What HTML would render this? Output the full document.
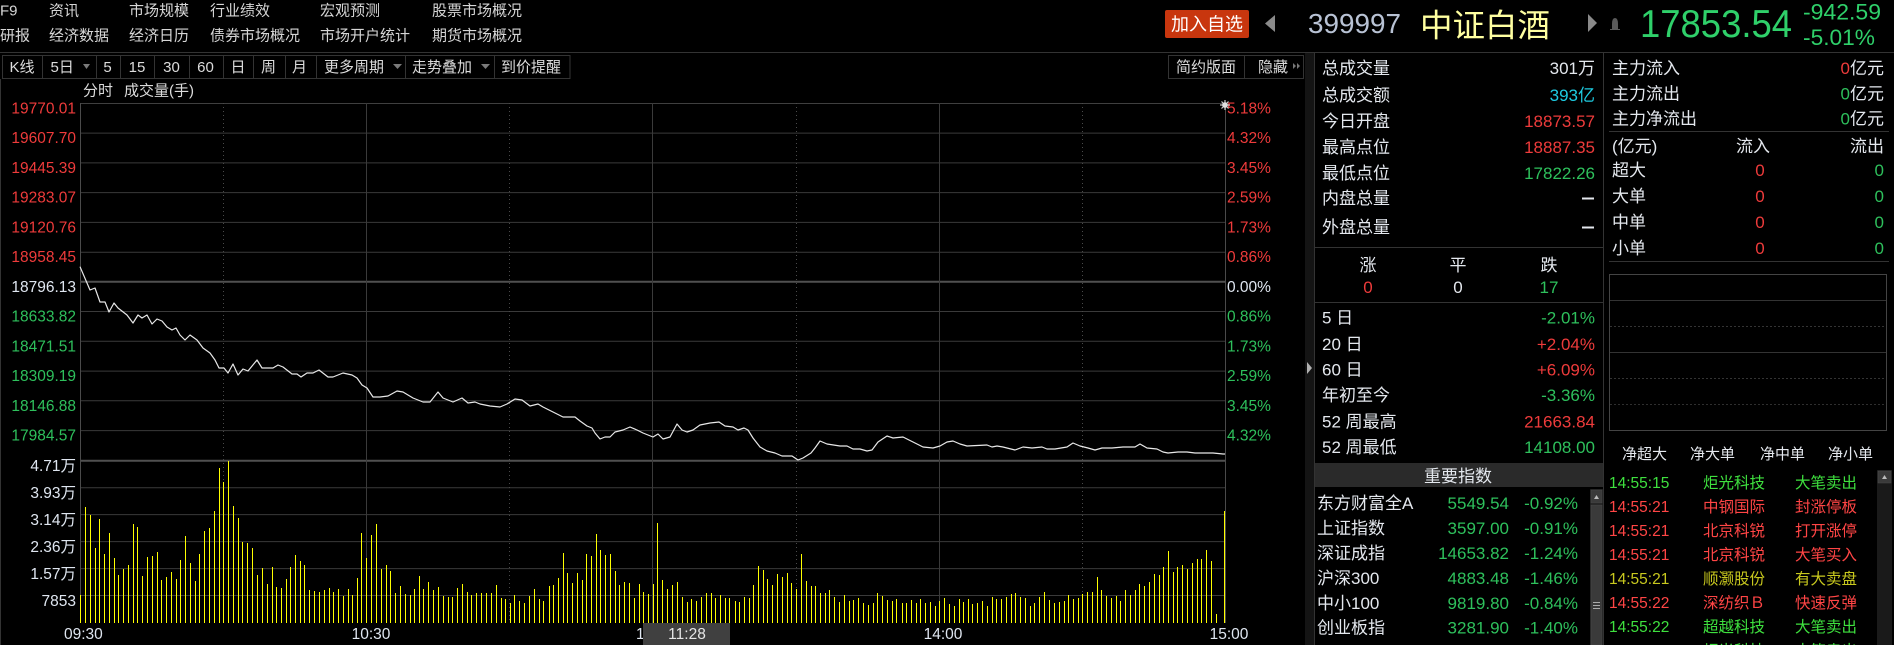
<!DOCTYPE html>
<html>
<head>
<meta charset="utf-8">
<style>
html,body{margin:0;padding:0;background:#000;}
body{width:1894px;height:645px;overflow:hidden;position:relative;}
svg{position:absolute;left:0;top:0;display:block;}
text{font-family:"Liberation Sans","Noto Sans CJK SC",sans-serif;}
</style>
</head>
<body>
<svg width="1894" height="645" viewBox="0 0 1894 645" xmlns="http://www.w3.org/2000/svg">
<rect x="0" y="0" width="1894" height="645" fill="#000"/>

<!-- ===== Top menu ===== -->
<g font-size="15" fill="#d6d6d6">
  <text x="0" y="15.7">F9</text>
  <text x="49" y="15.7">资讯</text>
  <text x="129" y="15.7">市场规模</text>
  <text x="210" y="15.7">行业绩效</text>
  <text x="320" y="15.7">宏观预测</text>
  <text x="432" y="15.7">股票市场概况</text>
  <text x="0" y="40.7">研报</text>
  <text x="49" y="40.7">经济数据</text>
  <text x="129" y="40.7">经济日历</text>
  <text x="210" y="40.7">债券市场概况</text>
  <text x="320" y="40.7">市场开户统计</text>
  <text x="432" y="40.7">期货市场概况</text>
</g>

<!-- ===== Header right ===== -->
<rect x="1165" y="10" width="84" height="28" rx="2" fill="#c8360e"/>
<text x="1207" y="30.5" font-size="18" fill="#fff" text-anchor="middle">加入自选</text>
<polygon points="1275,15 1265,23.5 1275,32" fill="#8a8a8a"/>
<text x="1308" y="33" font-size="28" fill="#b8c2d4" textLength="93" lengthAdjust="spacingAndGlyphs">399997</text>
<text x="1420" y="36.5" font-size="32" fill="#ffffa0" textLength="130" lengthAdjust="spacingAndGlyphs">中证白酒</text>
<polygon points="1588,14 1597,23 1588,32" fill="#8a8a8a"/>
<path d="M1612,29 L1612,24 Q1612,18 1615,18 Q1618,18 1618,24 L1618,29 Z M1610,29 L1620,29 L1620,30 L1610,30 Z" fill="#5a5a5a"/>
<text x="1640" y="37" font-size="39" fill="#2fd06a" textLength="152" lengthAdjust="spacingAndGlyphs">17853.54</text>
<text x="1803" y="19.5" font-size="22" fill="#2fd06a" textLength="78" lengthAdjust="spacingAndGlyphs">-942.59</text>
<text x="1803" y="45" font-size="22" fill="#2fd06a" textLength="72" lengthAdjust="spacingAndGlyphs">-5.01%</text>

<!-- top separator line -->
<line x1="0" y1="52.5" x2="1894" y2="52.5" stroke="#333" stroke-width="1"/>

<!-- ===== Toolbar ===== -->
<rect x="2.5" y="55.5" width="567.5" height="23" fill="#000" stroke="#333" stroke-width="1"/>
<g stroke="#333" stroke-width="1">
  <line x1="42.5" y1="55" x2="42.5" y2="79"/>
  <line x1="96.5" y1="55" x2="96.5" y2="79"/>
  <line x1="120.5" y1="55" x2="120.5" y2="79"/>
  <line x1="154.5" y1="55" x2="154.5" y2="79"/>
  <line x1="189.5" y1="55" x2="189.5" y2="79"/>
  <line x1="223.5" y1="55" x2="223.5" y2="79"/>
  <line x1="253.5" y1="55" x2="253.5" y2="79"/>
  <line x1="285.5" y1="55" x2="285.5" y2="79"/>
  <line x1="316.5" y1="55" x2="316.5" y2="79"/>
  <line x1="405.5" y1="55" x2="405.5" y2="79"/>
  <line x1="494.5" y1="55" x2="494.5" y2="79"/>
</g>
<g font-size="15" fill="#dcdcdc">
  <text x="22" y="72" text-anchor="middle">K线</text>
  <text x="50.5" y="72">5日</text>
  <text x="107.5" y="72" text-anchor="middle">5</text>
  <text x="137" y="72" text-anchor="middle">15</text>
  <text x="171.5" y="72" text-anchor="middle">30</text>
  <text x="205.5" y="72" text-anchor="middle">60</text>
  <text x="238" y="72" text-anchor="middle">日</text>
  <text x="268.5" y="72" text-anchor="middle">周</text>
  <text x="299.5" y="72" text-anchor="middle">月</text>
  <text x="324" y="72">更多周期</text>
  <text x="412" y="72">走势叠加</text>
  <text x="501" y="72">到价提醒</text>
</g>
<g fill="#7a7a7a">
  <polygon points="83,64 90,64 86.5,69"/>
  <polygon points="393,64 402,64 397.5,69"/>
  <polygon points="481,64 490,64 485.5,69"/>
</g>
<!-- right toolbar -->
<rect x="1168.5" y="55.5" width="135" height="23" fill="#000" stroke="#333" stroke-width="1"/>
<line x1="1244.5" y1="55" x2="1244.5" y2="79" stroke="#333"/>
<text x="1176" y="72" font-size="15" fill="#dcdcdc">简约版面</text>
<text x="1258" y="72" font-size="15" fill="#dcdcdc">隐藏</text>
<polygon points="1293,63 1296,66 1293,69" fill="#777"/>
<polygon points="1297,63 1300,66 1297,69" fill="#777"/>

<text x="83" y="95.5" font-size="15" fill="#dcdcdc">分时</text>
<text x="124" y="95.5" font-size="15" fill="#dcdcdc">成交量(手)</text>

<!-- left edge line -->
<line x1="0.5" y1="79" x2="0.5" y2="645" stroke="#333"/>

<!-- ===== Chart grid ===== -->
<g stroke="#3a3a3a" stroke-width="1">
  <line x1="80" y1="133.1" x2="1225.5" y2="133.1"/>
  <line x1="80" y1="162.9" x2="1225.5" y2="162.9"/>
  <line x1="80" y1="192.6" x2="1225.5" y2="192.6"/>
  <line x1="80" y1="222.4" x2="1225.5" y2="222.4"/>
  <line x1="80" y1="252.2" x2="1225.5" y2="252.2"/>
  <line x1="80" y1="311.5" x2="1225.5" y2="311.5"/>
  <line x1="80" y1="341.3" x2="1225.5" y2="341.3"/>
  <line x1="80" y1="371.1" x2="1225.5" y2="371.1"/>
  <line x1="80" y1="400.8" x2="1225.5" y2="400.8"/>
  <line x1="80" y1="430.6" x2="1225.5" y2="430.6"/>
  <line x1="80" y1="487.7" x2="1225.5" y2="487.7"/>
  <line x1="80" y1="514.6" x2="1225.5" y2="514.6"/>
  <line x1="80" y1="541.6" x2="1225.5" y2="541.6"/>
  <line x1="80" y1="568.6" x2="1225.5" y2="568.6"/>
  <line x1="80" y1="595.5" x2="1225.5" y2="595.5"/>
</g>
<line x1="80" y1="103.5" x2="1225.5" y2="103.5" stroke="#3f3f3f" stroke-width="1"/>
<line x1="80" y1="281.7" x2="1225.5" y2="281.7" stroke="#505050" stroke-width="2"/>
<line x1="80" y1="460.7" x2="1225.5" y2="460.7" stroke="#505050" stroke-width="2"/>
<!-- vertical solid -->
<g stroke="#3a3a3a" stroke-width="1">
  <line x1="366.5" y1="103" x2="366.5" y2="623"/>
  <line x1="652.5" y1="103" x2="652.5" y2="623"/>
  <line x1="939.5" y1="103" x2="939.5" y2="623"/>
</g>
<g stroke="#4a4a4a" stroke-width="1" stroke-dasharray="1,3">
  <line x1="223.5" y1="103" x2="223.5" y2="623"/>
  <line x1="509.5" y1="103" x2="509.5" y2="623"/>
  <line x1="796.5" y1="103" x2="796.5" y2="623"/>
  <line x1="1082.5" y1="103" x2="1082.5" y2="623"/>
</g>
<line x1="80.5" y1="103" x2="80.5" y2="623" stroke="#4a4a4a"/>
<line x1="1225.5" y1="103" x2="1225.5" y2="623" stroke="#4a4a4a"/>

<!-- ===== Left price labels ===== -->
<g font-size="15.5" text-anchor="end">
  <text x="76" y="113.3" fill="#ee3b3b">19770.01</text>
  <text x="76" y="143.1" fill="#ee3b3b">19607.70</text>
  <text x="76" y="172.9" fill="#ee3b3b">19445.39</text>
  <text x="76" y="202.6" fill="#ee3b3b">19283.07</text>
  <text x="76" y="232.4" fill="#ee3b3b">19120.76</text>
  <text x="76" y="262.2" fill="#ee3b3b">18958.45</text>
  <text x="76" y="291.9" fill="#dfe6f0">18796.13</text>
  <text x="76" y="321.5" fill="#2ec05c">18633.82</text>
  <text x="76" y="351.3" fill="#2ec05c">18471.51</text>
  <text x="76" y="381.1" fill="#2ec05c">18309.19</text>
  <text x="76" y="410.8" fill="#2ec05c">18146.88</text>
  <text x="76" y="440.6" fill="#2ec05c">17984.57</text>
  <text x="76" y="471.2" fill="#dfe6f0">4.71万</text>
  <text x="76" y="498.2" fill="#dfe6f0">3.93万</text>
  <text x="76" y="525.1" fill="#dfe6f0">3.14万</text>
  <text x="76" y="552.1" fill="#dfe6f0">2.36万</text>
  <text x="76" y="579.1" fill="#dfe6f0">1.57万</text>
  <text x="76" y="606" fill="#dfe6f0">7853</text>
</g>

<!-- ===== Right percent labels ===== -->
<g font-size="15.5">
  <text x="1227" y="113.3" fill="#ee3b3b">5.18%</text>
  <text x="1227" y="143.1" fill="#ee3b3b">4.32%</text>
  <text x="1227" y="172.9" fill="#ee3b3b">3.45%</text>
  <text x="1227" y="202.6" fill="#ee3b3b">2.59%</text>
  <text x="1227" y="232.4" fill="#ee3b3b">1.73%</text>
  <text x="1227" y="262.2" fill="#ee3b3b">0.86%</text>
  <text x="1227" y="291.9" fill="#dfe6f0">0.00%</text>
  <text x="1227" y="321.5" fill="#2ec05c">0.86%</text>
  <text x="1227" y="351.3" fill="#2ec05c">1.73%</text>
  <text x="1227" y="381.1" fill="#2ec05c">2.59%</text>
  <text x="1227" y="410.8" fill="#2ec05c">3.45%</text>
  <text x="1227" y="440.6" fill="#2ec05c">4.32%</text>
</g>
<!-- star icon -->
<g stroke="#cfcfcf" stroke-width="1.2">
  <line x1="1220" y1="105" x2="1230" y2="105"/>
  <line x1="1225" y1="100" x2="1225" y2="110"/>
  <line x1="1221.5" y1="101.5" x2="1228.5" y2="108.5"/>
  <line x1="1228.5" y1="101.5" x2="1221.5" y2="108.5"/>
</g>
<circle cx="1225" cy="105" r="2.8" fill="#e0e0e0"/>

<!-- ===== Price line ===== -->
<polyline fill="none" stroke="#e8e8e8" stroke-width="1.2" stroke-linejoin="round" points="80,266.7 90,290 95,288 100,302 105,302 109,312 114,303 118,308 127,315 133,323 138,315 142,318 147,315 152,324 157,319 162,321 167,327 172,330 176,328 180,335 185,340 190,335 197,340 203,348 210,353 215,360 219,368 224,368 228,373 233,364 238,375 243,369 248,371 257,360 262,368 273,368 278,365 283,367 292,374 297,374 301,377 307,373 313,373 319,370 328,377 333,377 343,373 352,375 357,378 362,385 367,388 373,397 380,397 388,396 397,391 403,392 413,398 423,402 430,402 438,392 443,398 453,402 462,398 468,403 475,402 480,404 490,406 500,407 507,404 515,399 522,400 530,406 538,404 543,407 553,412 563,417 575,417 580,421 587,426 592,428 595,433 600,439 605,437 610,437 615,432 623,430 630,427 637,430 643,433 653,437 658,434 663,439 670,437 677,424 682,430 687,432 693,430 700,425 710,423 719,422 725,426 733,427 738,430 744,428 748,430 753,438 760,447 767,451 775,453 782,456 792,456 798,460 803,458 811,453 815,448 820,441 827,444 840,446 847,446 853,449 860,449 867,451 872,450 878,442 887,436 893,438 903,437 913,442 923,447 933,448 940,446 947,442 953,441 960,444 967,446 987,445 992,447 997,446 1003,447 1015,450 1023,447 1032,448 1042,447 1047,449 1055,449 1067,447 1073,443 1080,446 1088,448 1095,450 1102,448 1112,448 1123,447 1135,447 1140,444 1147,448 1157,449 1163,452 1168,453 1178,452 1187,452 1195,453 1205,453 1213,453 1223,454 1225,454"/>

<!-- ===== Volume bars ===== -->
<path fill="none" stroke="#ffff00" stroke-width="1" shape-rendering="crispEdges" d="M80.5 623V595M85.5 623V507M90.5 623V515M95.5 623V548M99.5 623V519M104.5 623V554M109.5 623V533M114.5 623V558M118.5 623V575M123.5 623V569M128.5 623V565M133.5 623V524M137.5 623V527M142.5 623V576M147.5 623V557M152.5 623V556M157.5 623V552M161.5 623V580M166.5 623V577M171.5 623V572M176.5 623V579M180.5 623V560M185.5 623V536M190.5 623V563M195.5 623V581M199.5 623V554M204.5 623V531M209.5 623V528M214.5 623V511M219.5 623V468M223.5 623V482M228.5 623V461M233.5 623V506M238.5 623V518M242.5 623V542M247.5 623V543M252.5 623V548M257.5 623V575M262.5 623V568M267.5 623V584M272.5 623V567M276.5 623V587M281.5 623V588M286.5 623V579M290.5 623V567M295.5 623V555M300.5 623V561M304.5 623V565M309.5 623V590M314.5 623V591M319.5 623V592M324.5 623V590M329.5 623V588M333.5 623V592M338.5 623V589M343.5 623V596M348.5 623V589M352.5 623V595M357.5 623V578M361.5 623V533M366.5 623V558M371.5 623V535M376.5 623V524M381.5 623V569M386.5 623V565M390.5 623V571M395.5 623V593M400.5 623V586M405.5 623V594M410.5 623V595M414.5 623V589M419.5 623V576M423.5 623V589M428.5 623V582M433.5 623V590M438.5 623V587M443.5 623V596M448.5 623V597M452.5 623V597M457.5 623V588M462.5 623V584M467.5 623V592M471.5 623V595M476.5 623V593M481.5 623V593M486.5 623V593M491.5 623V593M496.5 623V585M501.5 623V598M505.5 623V599M510.5 623V603M514.5 623V595M519.5 623V601M524.5 623V603M529.5 623V596M534.5 623V589M539.5 623V599M543.5 623V601M549.5 623V586M553.5 623V585M558.5 623V578M563.5 623V553M567.5 623V573M572.5 623V583M577.5 623V573M582.5 623V580M586.5 623V554M591.5 623V556M596.5 623V534M600.5 623V550M605.5 623V555M610.5 623V554M615.5 623V571M619.5 623V585M624.5 623V582M629.5 623V583M634.5 623V598M639.5 623V584M643.5 623V592M648.5 623V594M653.5 623V584M657.5 623V523M662.5 623V580M667.5 623V589M672.5 623V585M677.5 623V582M682.5 623V597M687.5 623V602M691.5 623V599M696.5 623V601M701.5 623V597M706.5 623V593M711.5 623V593M715.5 623V598M720.5 623V595M725.5 623V598M729.5 623V598M735.5 623V601M739.5 623V602M744.5 623V597M749.5 623V598M753.5 623V585M758.5 623V566M763.5 623V570M767.5 623V579M772.5 623V585M777.5 623V574M782.5 623V577M787.5 623V573M791.5 623V583M796.5 623V589M801.5 623V554M806.5 623V581M811.5 623V586M815.5 623V586M820.5 623V593M825.5 623V593M829.5 623V590M834.5 623V597M839.5 623V602M844.5 623V595M849.5 623V601M853.5 623V600M858.5 623V598M863.5 623V603M868.5 623V605M873.5 623V603M877.5 623V593M882.5 623V596M887.5 623V600M892.5 623V601M896.5 623V599M902.5 623V603M906.5 623V603M911.5 623V600M916.5 623V603M920.5 623V599M925.5 623V603M930.5 623V602M935.5 623V606M939.5 623V601M944.5 623V598M949.5 623V604M954.5 623V606M959.5 623V599M963.5 623V602M968.5 623V599M972.5 623V604M977.5 623V603M982.5 623V601M987.5 623V606M992.5 623V597M996.5 623V599M1001.5 623V599M1006.5 623V597M1011.5 623V594M1015.5 623V593M1020.5 623V597M1025.5 623V598M1030.5 623V606M1034.5 623V603M1039.5 623V597M1044.5 623V592M1049.5 623V600M1054.5 623V603M1059.5 623V602M1064.5 623V601M1068.5 623V595M1073.5 623V599M1078.5 623V598M1082.5 623V594M1087.5 623V592M1092.5 623V592M1097.5 623V577M1101.5 623V590M1106.5 623V596M1111.5 623V598M1116.5 623V596M1120.5 623V601M1125.5 623V590M1130.5 623V595M1135.5 623V590M1139.5 623V584M1144.5 623V586M1149.5 623V582M1154.5 623V574M1159.5 623V575M1163.5 623V567M1168.5 623V551M1173.5 623V572M1177.5 623V567M1182.5 623V565M1187.5 623V569M1192.5 623V563M1197.5 623V559M1201.5 623V559M1206.5 623V550M1211.5 623V561M1216.5 623V614M1224.5 623V511"/>

<!-- ===== Time axis ===== -->
<g font-size="15.5" fill="#dfe6f0">
  <text x="64" y="639">09:30</text>
  <text x="371" y="639" text-anchor="middle">10:30</text>
  <text x="636" y="639">11:30</text>
  <text x="943" y="639" text-anchor="middle">14:00</text>
  <text x="1229" y="639" text-anchor="middle">15:00</text>
</g>
<rect x="643" y="623" width="87" height="22" fill="#404040"/>
<text x="687" y="639" font-size="15.5" fill="#e6e6e6" text-anchor="middle">11:28</text>

<!-- ===== Panel separators ===== -->
<rect x="1305" y="53" width="9" height="592" fill="#141414"/>
<polygon points="1307,362 1312,368 1307,374" fill="#b0b0b0"/>
<line x1="1314.5" y1="53" x2="1314.5" y2="645" stroke="#333"/>
<line x1="1603.5" y1="53" x2="1603.5" y2="645" stroke="#333"/>

<!-- ===== Info panel ===== -->
<g font-size="17" fill="#e4e8ee">
  <text x="1322" y="74">总成交量</text>
  <text x="1322" y="101">总成交额</text>
  <text x="1322" y="127">今日开盘</text>
  <text x="1322" y="153">最高点位</text>
  <text x="1322" y="179">最低点位</text>
  <text x="1322" y="204">内盘总量</text>
  <text x="1322" y="233">外盘总量</text>
</g>
<g font-size="17" text-anchor="end">
  <text x="1595" y="74" fill="#e4e8ee">301万</text>
  <text x="1595" y="101" fill="#1ecbe1">393亿</text>
  <text x="1595" y="127" fill="#ee3b3b">18873.57</text>
  <text x="1595" y="153" fill="#ee3b3b">18887.35</text>
  <text x="1595" y="179" fill="#2ec05c">17822.26</text>
</g>
<line x1="1582" y1="198.5" x2="1594" y2="198.5" stroke="#e4e8ee" stroke-width="2"/>
<line x1="1582" y1="227.5" x2="1594" y2="227.5" stroke="#e4e8ee" stroke-width="2"/>
<line x1="1314" y1="247.5" x2="1603" y2="247.5" stroke="#333"/>
<g font-size="17" text-anchor="middle">
  <text x="1368" y="271" fill="#e4e8ee">涨</text>
  <text x="1458" y="271" fill="#e4e8ee">平</text>
  <text x="1549" y="271" fill="#e4e8ee">跌</text>
  <text x="1368" y="293" fill="#ee3b3b">0</text>
  <text x="1458" y="293" fill="#e4e8ee">0</text>
  <text x="1549" y="293" fill="#2ec05c">17</text>
</g>
<line x1="1314" y1="302.5" x2="1603" y2="302.5" stroke="#333"/>
<g font-size="17" fill="#e4e8ee">
  <text x="1322" y="323.5">5 日</text>
  <text x="1322" y="350">20 日</text>
  <text x="1322" y="375.5">60 日</text>
  <text x="1322" y="401">年初至今</text>
  <text x="1322" y="427.5">52 周最高</text>
  <text x="1322" y="453">52 周最低</text>
</g>
<g font-size="17" text-anchor="end">
  <text x="1595" y="323.5" fill="#2ec05c">-2.01%</text>
  <text x="1595" y="350" fill="#ee3b3b">+2.04%</text>
  <text x="1595" y="375.5" fill="#ee3b3b">+6.09%</text>
  <text x="1595" y="401" fill="#2ec05c">-3.36%</text>
  <text x="1595" y="427.5" fill="#ee3b3b">21663.84</text>
  <text x="1595" y="453" fill="#2ec05c">14108.00</text>
</g>
<rect x="1315" y="463" width="288" height="24" fill="#2a2a2a"/>
<text x="1458" y="482" font-size="17" fill="#e4e8ee" text-anchor="middle">重要指数</text>
<g font-size="17" fill="#e4e8ee">
  <text x="1317" y="509">东方财富全A</text>
  <text x="1317" y="534">上证指数</text>
  <text x="1317" y="559">深证成指</text>
  <text x="1317" y="584">沪深300</text>
  <text x="1317" y="609">中小100</text>
  <text x="1317" y="633.5">创业板指</text>
</g>
<g font-size="17" fill="#2ec05c" text-anchor="end">
  <text x="1509" y="509">5549.54</text>
  <text x="1509" y="534">3597.00</text>
  <text x="1509" y="559">14653.82</text>
  <text x="1509" y="584">4883.48</text>
  <text x="1509" y="609">9819.80</text>
  <text x="1509" y="633.5">3281.90</text>
  <text x="1578" y="509">-0.92%</text>
  <text x="1578" y="534">-0.91%</text>
  <text x="1578" y="559">-1.24%</text>
  <text x="1578" y="584">-1.46%</text>
  <text x="1578" y="609">-0.84%</text>
  <text x="1578" y="633.5">-1.40%</text>
</g>
<!-- index scrollbar -->
<rect x="1590" y="489" width="13" height="156" fill="#1c1c1c"/>
<rect x="1591" y="490" width="11" height="13" fill="#3a3a3a" stroke="#4a4a4a" stroke-width="0.5"/>
<polygon points="1594,499 1599,499 1596.5,495" fill="#bbb"/>
<rect x="1591" y="505" width="11" height="140" fill="#3a3a3a" stroke="#4c4c4c" stroke-width="0.5"/>
<g stroke="#aaa" stroke-width="1">
  <line x1="1593" y1="602.5" x2="1600" y2="602.5"/>
  <line x1="1593" y1="605.5" x2="1600" y2="605.5"/>
  <line x1="1593" y1="608.5" x2="1600" y2="608.5"/>
</g>

<!-- ===== Right-most panel ===== -->
<g font-size="17" fill="#e4e8ee">
  <text x="1612" y="74">主力流入</text>
  <text x="1612" y="99.5">主力流出</text>
  <text x="1612" y="124.5">主力净流出</text>
</g>
<g font-size="17" text-anchor="end">
  <text x="1884" y="74" fill="#e4e8ee">亿元</text>
  <text x="1884" y="99.5" fill="#e4e8ee">亿元</text>
  <text x="1884" y="124.5" fill="#e4e8ee">亿元</text>
  <text x="1850" y="74" fill="#ee3b3b">0</text>
  <text x="1850" y="99.5" fill="#2ec05c">0</text>
  <text x="1850" y="124.5" fill="#2ec05c">0</text>
</g>
<line x1="1609" y1="131.5" x2="1889" y2="131.5" stroke="#333"/>
<g font-size="17" fill="#e4e8ee">
  <text x="1612" y="152">(亿元)</text>
  <text x="1736" y="152">流入</text>
  <text x="1884" y="152" text-anchor="end">流出</text>
  <text x="1612" y="176">超大</text>
  <text x="1612" y="202">大单</text>
  <text x="1612" y="228">中单</text>
  <text x="1612" y="254">小单</text>
</g>
<g font-size="17">
  <text x="1760" y="176" fill="#ee3b3b" text-anchor="middle">0</text>
  <text x="1760" y="202" fill="#ee3b3b" text-anchor="middle">0</text>
  <text x="1760" y="228" fill="#ee3b3b" text-anchor="middle">0</text>
  <text x="1760" y="254" fill="#ee3b3b" text-anchor="middle">0</text>
  <text x="1884" y="176" fill="#2ec05c" text-anchor="end">0</text>
  <text x="1884" y="202" fill="#2ec05c" text-anchor="end">0</text>
  <text x="1884" y="228" fill="#2ec05c" text-anchor="end">0</text>
  <text x="1884" y="254" fill="#2ec05c" text-anchor="end">0</text>
</g>
<line x1="1609" y1="261.5" x2="1889" y2="261.5" stroke="#333"/>
<rect x="1609.5" y="274.5" width="277" height="156" fill="none" stroke="#444"/>
<line x1="1610" y1="300.5" x2="1886" y2="300.5" stroke="#333"/>
<line x1="1610" y1="326.5" x2="1886" y2="326.5" stroke="#333" stroke-dasharray="2,2"/>
<line x1="1610" y1="352.5" x2="1886" y2="352.5" stroke="#333"/>
<line x1="1610" y1="378.5" x2="1886" y2="378.5" stroke="#333" stroke-dasharray="2,2"/>
<line x1="1610" y1="404.5" x2="1886" y2="404.5" stroke="#2e2e2e" stroke-dasharray="2,2"/>

<g font-size="15" fill="#e4e8ee">
  <text x="1622" y="459">净超大</text>
  <text x="1690" y="459">净大单</text>
  <text x="1760" y="459">净中单</text>
  <text x="1828" y="459">净小单</text>
</g>
<!-- ticker scrollbar -->
<rect x="1877" y="470" width="15" height="175" fill="#1a1a1a"/>
<rect x="1878" y="471" width="13" height="12" fill="#3a3a3a" stroke="#4c4c4c" stroke-width="0.5"/>
<polygon points="1882,479 1887,479 1884.5,475" fill="#bbb"/>

<g font-size="15.5">
  <g fill="#3ee03e">
    <text x="1609" y="488">14:55:15</text><text x="1703" y="488">炬光科技</text><text x="1795" y="488">大笔卖出</text>
  </g>
  <g fill="#ff4545">
    <text x="1609" y="512">14:55:21</text><text x="1703" y="512">中钢国际</text><text x="1795" y="512">封涨停板</text>
    <text x="1609" y="536">14:55:21</text><text x="1703" y="536">北京科锐</text><text x="1795" y="536">打开涨停</text>
    <text x="1609" y="560">14:55:21</text><text x="1703" y="560">北京科锐</text><text x="1795" y="560">大笔买入</text>
  </g>
  <g fill="#c8c81e">
    <text x="1609" y="584">14:55:21</text><text x="1703" y="584">顺灏股份</text><text x="1795" y="584">有大卖盘</text>
  </g>
  <g fill="#ff4545">
    <text x="1609" y="608">14:55:22</text><text x="1703" y="608">深纺织Ｂ</text><text x="1795" y="608">快速反弹</text>
  </g>
  <g fill="#3ee03e">
    <text x="1609" y="632">14:55:22</text><text x="1703" y="632">超越科技</text><text x="1795" y="632">大笔卖出</text>
    <text x="1609" y="656">14:55:24</text><text x="1703" y="656">炬光科技</text><text x="1795" y="656">大笔卖出</text>
  </g>
</g>
</svg>
</body>
</html>
